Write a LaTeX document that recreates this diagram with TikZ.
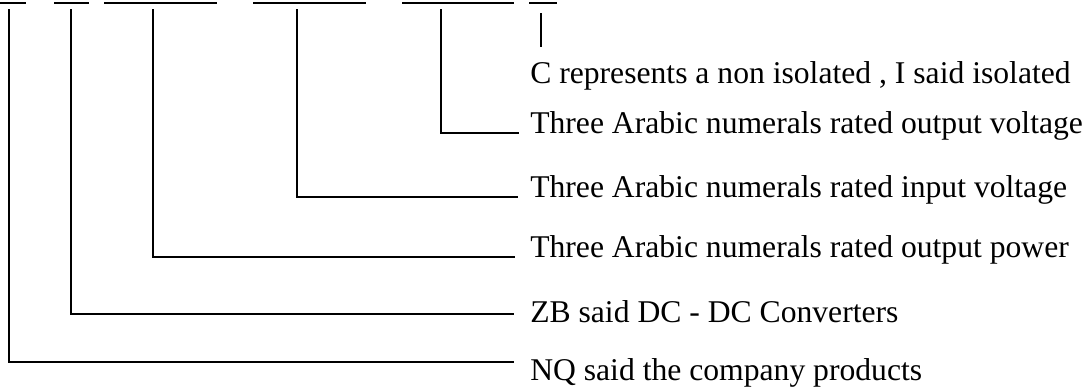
\documentclass[tikz,border=0pt]{standalone}
\usepackage{fontspec}
\setmainfont{Liberation Serif}

\begin{document}
\begin{tikzpicture}[x=0.025cm,y=-0.025cm,
    bar/.style={line width=1.8pt},
    lead/.style={line width=1pt},
    label/.style={anchor=base west,inner sep=0pt,font=\fontsize{22.5}{26}\selectfont}]
    \useasboundingbox (0,0) rectangle (1089,390);

    % code fields
    \draw[bar] (0,3) -- (26,3);
    \draw[bar] (54,3) -- (89,3);
    \draw[bar] (104,3) -- (217,3);
    \draw[bar] (253,3) -- (366,3);
    \draw[bar] (402,3) -- (514,3);
    \draw[bar] (529,3) -- (557,3);

    \node[label] (iso) at (530,83) {C represents a non isolated , I said isolated};
    \node[label] (outv) at (530,133) {Three Arabic numerals rated output voltage};
    \node[label] (inv) at (530,197) {Three Arabic numerals rated input voltage};
    \node[label] (outp) at (530,257) {Three Arabic numerals rated output power};
    \node[label] (zb) at (530,322) {ZB said DC - DC Converters};
    \node[label] (nq) at (530,380) {NQ said the company products};

    \coordinate (isotop) at (541,13);
    \coordinate (isoend) at (541,47);
    \coordinate (outvtop) at (441,9);
    \coordinate (outvend) at (519,133);
    \coordinate (invtop) at (297,9);
    \coordinate (invend) at (518,197);
    \coordinate (outptop) at (153,9);
    \coordinate (outpend) at (515,257);
    \coordinate (zbtop) at (71,9);
    \coordinate (zbend) at (514,314);
    \coordinate (nqtop) at (9,9);
    \coordinate (nqend) at (514,362);

    \draw[lead] (isotop) -- (isoend);
    \draw[lead] (outvtop) |- (outvend);
    \draw[lead] (invtop) |- (invend);
    \draw[lead] (outptop) |- (outpend);
    \draw[lead] (zbtop) |- (zbend);
    \draw[lead] (nqtop) |- (nqend);
\end{tikzpicture}
\end{document}
